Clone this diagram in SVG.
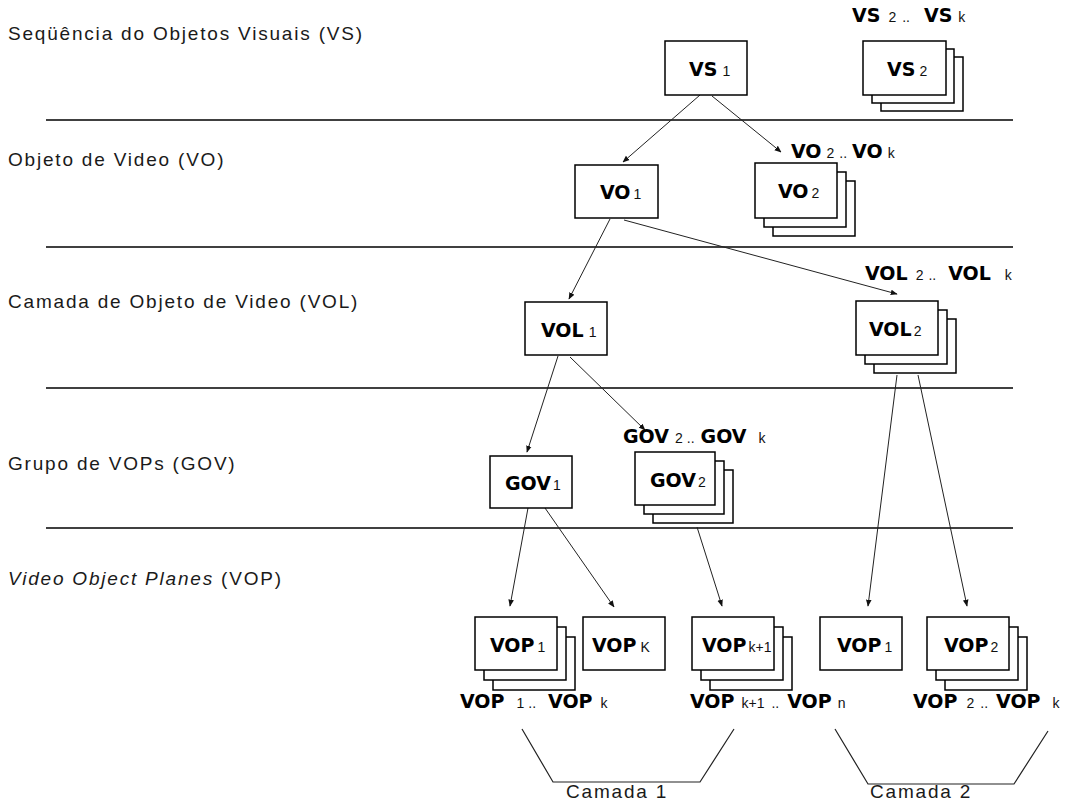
<svg xmlns="http://www.w3.org/2000/svg" width="1073" height="800" viewBox="0 0 1073 800">
  <defs>
    <marker id="ah" viewBox="0 0 10 10" refX="9" refY="5" markerWidth="7" markerHeight="7" orient="auto" markerUnits="userSpaceOnUse">
      <path d="M0,1 L10,5 L0,9 z" fill="#111"/>
    </marker>
    <style>
      .lbl { font-family: "Liberation Sans", Arial, sans-serif; font-size: 19px; letter-spacing: 1.8px; fill: #1a1a1a; }
      .b { font-family: "DejaVu Sans", sans-serif; font-weight: bold; font-size: 19px; fill: #000; }
      .s { font-family: "Liberation Sans", Arial, sans-serif; font-weight: normal; font-size: 14px; fill: #111; }
      .box { fill: #fff; stroke: #000; stroke-width: 1.5; }
      .sep { stroke: #000; stroke-width: 1.5; }
      .con { stroke: #222; stroke-width: 1; fill: none; marker-end: url(#ah); }
      .brk { stroke: #222; stroke-width: 1.2; fill: none; }
    </style>
  </defs>

  <rect width="1073" height="800" fill="#fff"/>

  <!-- level separators -->
  <g id="separators">
    <line class="sep" x1="46" y1="120" x2="1013" y2="120"/>
    <line class="sep" x1="46" y1="247" x2="1013" y2="247"/>
    <line class="sep" x1="46" y1="388" x2="1013" y2="388"/>
    <line class="sep" x1="46" y1="528" x2="1013" y2="528"/>
  </g>

  <!-- level names -->
  <g id="level-labels">
    <text class="lbl" x="8" y="40">Seqüência do Objetos Visuais (VS)</text>
    <text class="lbl" x="8" y="166">Objeto de Video (VO)</text>
    <text class="lbl" x="8" y="308">Camada de Objeto de Video (VOL)</text>
    <text class="lbl" x="8" y="470">Grupo de VOPs (GOV)</text>
    <text class="lbl" x="8" y="585"><tspan font-style="italic">Video Object Planes</tspan> (VOP)</text>
  </g>

  <!-- connectors -->
  <g id="connectors">
    <line class="con" x1="700" y1="95" x2="623" y2="162"/>
    <line class="con" x1="712" y1="96" x2="781" y2="152"/>
    <line class="con" x1="610" y1="219" x2="569" y2="299"/>
    <line class="con" x1="624" y1="220" x2="897" y2="294"/>
    <line class="con" x1="558" y1="356" x2="527" y2="452"/>
    <line class="con" x1="570" y1="357" x2="645" y2="430"/>
    <line class="con" x1="897" y1="375" x2="868" y2="606"/>
    <line class="con" x1="918" y1="375" x2="967" y2="606"/>
    <line class="con" x1="528" y1="508" x2="510" y2="606"/>
    <line class="con" x1="545" y1="508" x2="614" y2="607"/>
    <line class="con" x1="697" y1="527" x2="722" y2="606"/>
  </g>

  <!-- VS -->
  <g id="vs1">
    <rect class="box" x="665" y="41" width="82" height="54"/>
    <text class="b" x="689" y="76">VS<tspan class="s" dx="5">1</tspan></text>
  </g>
  <g id="vs2">
    <rect class="box" x="881" y="57" width="82" height="54"/>
    <rect class="box" x="872" y="49" width="82" height="54"/>
    <rect class="box" x="863" y="41" width="83" height="54"/>
    <text class="b" x="887" y="76">VS<tspan class="s" dx="4">2</tspan></text>
    <text class="b" x="852" y="22">VS<tspan class="s" dx="8">2</tspan><tspan class="s" dx="6">..</tspan><tspan dx="14">VS</tspan><tspan class="s" dx="6">k</tspan></text>
  </g>

  <!-- VO -->
  <g id="vo1">
    <rect class="box" x="575" y="165" width="83" height="53"/>
    <text class="b" x="600" y="199">VO<tspan class="s" dx="3">1</tspan></text>
  </g>
  <g id="vo2">
    <rect class="box" x="773" y="181" width="82" height="55"/>
    <rect class="box" x="764" y="172" width="82" height="55"/>
    <rect class="box" x="755" y="163" width="82" height="55"/>
    <text class="b" x="778" y="198">VO<tspan class="s" dx="3">2</tspan></text>
    <text class="b" x="791" y="158">VO<tspan class="s" dx="5">2</tspan><tspan class="s" dx="5">..</tspan><tspan dx="5">VO</tspan><tspan class="s" dx="5">k</tspan></text>
  </g>

  <!-- VOL -->
  <g id="vol1">
    <rect class="box" x="525" y="302" width="82" height="53"/>
    <text class="b" x="541" y="337">VOL<tspan class="s" dx="5">1</tspan></text>
  </g>
  <g id="vol2">
    <rect class="box" x="874" y="319" width="82" height="54"/>
    <rect class="box" x="865" y="310" width="82" height="54"/>
    <rect class="box" x="856" y="301" width="82" height="54"/>
    <text class="b" x="869" y="336">VOL<tspan class="s" dx="2">2</tspan></text>
    <text class="b" x="865" y="280">VOL<tspan class="s" dx="8">2</tspan><tspan class="s" dx="5">..</tspan><tspan dx="12">VOL</tspan><tspan class="s" dx="14">k</tspan></text>
  </g>

  <!-- GOV -->
  <g id="gov1">
    <rect class="box" x="490" y="456" width="82" height="52"/>
    <text class="b" x="505" y="490">GOV<tspan class="s" dx="2">1</tspan></text>
  </g>
  <g id="gov2">
    <rect class="box" x="653" y="470" width="80" height="53"/>
    <rect class="box" x="644" y="461" width="80" height="53"/>
    <rect class="box" x="635" y="452" width="80" height="53"/>
    <text class="b" x="650" y="487">GOV<tspan class="s" dx="2">2</tspan></text>
    <text class="b" x="623" y="443">GOV<tspan class="s" dx="6">2</tspan><tspan class="s" dx="4">..</tspan><tspan dx="6">GOV</tspan><tspan class="s" dx="12">k</tspan></text>
  </g>

  <!-- VOP, layer 1 -->
  <g id="vop1-a">
    <rect class="box" x="493" y="637" width="82" height="53"/>
    <rect class="box" x="484" y="627" width="82" height="53"/>
    <rect class="box" x="475" y="617" width="82" height="53"/>
    <text class="b" x="490" y="652">VOP<tspan class="s" dx="3">1</tspan></text>
    <text class="b" x="460" y="708">VOP<tspan class="s" dx="12">1</tspan><tspan class="s" dx="4">..</tspan><tspan dx="12">VOP</tspan><tspan class="s" dx="8">k</tspan></text>
  </g>
  <g id="vop-k">
    <rect class="box" x="583" y="617" width="82" height="53"/>
    <text class="b" x="592" y="652">VOP<tspan class="s" dx="4" font-size="17">K</tspan></text>
  </g>
  <g id="vop-k1">
    <rect class="box" x="710" y="637" width="82" height="53"/>
    <rect class="box" x="701" y="627" width="82" height="53"/>
    <rect class="box" x="692" y="617" width="82" height="53"/>
    <text class="b" x="702" y="652">VOP<tspan class="s" dx="2">k+1</tspan></text>
    <text class="b" x="690" y="708">VOP<tspan class="s" dx="7">k+1</tspan><tspan class="s" dx="7">..</tspan><tspan dx="8">VOP</tspan><tspan class="s" dx="6">n</tspan></text>
  </g>

  <!-- VOP, layer 2 -->
  <g id="vop1-b">
    <rect class="box" x="820" y="617" width="82" height="53"/>
    <text class="b" x="837" y="652">VOP<tspan class="s" dx="3">1</tspan></text>
  </g>
  <g id="vop2-b">
    <rect class="box" x="945" y="637" width="82" height="53"/>
    <rect class="box" x="936" y="627" width="82" height="53"/>
    <rect class="box" x="927" y="617" width="82" height="53"/>
    <text class="b" x="944" y="652">VOP<tspan class="s" dx="2">2</tspan></text>
    <text class="b" x="913" y="708">VOP<tspan class="s" dx="9">2</tspan><tspan class="s" dx="6">..</tspan><tspan dx="8">VOP</tspan><tspan class="s" dx="12">k</tspan></text>
  </g>

  <!-- layer brackets -->
  <g id="layer1">
    <polyline class="brk" points="522,729 553,782 700,782 734,729"/>
    <text class="lbl" x="566" y="798">Camada 1</text>
  </g>
  <g id="layer2">
    <polyline class="brk" points="835,729 868,784 1014,784 1048,731"/>
    <text class="lbl" x="870" y="798">Camada 2</text>
  </g>
</svg>
